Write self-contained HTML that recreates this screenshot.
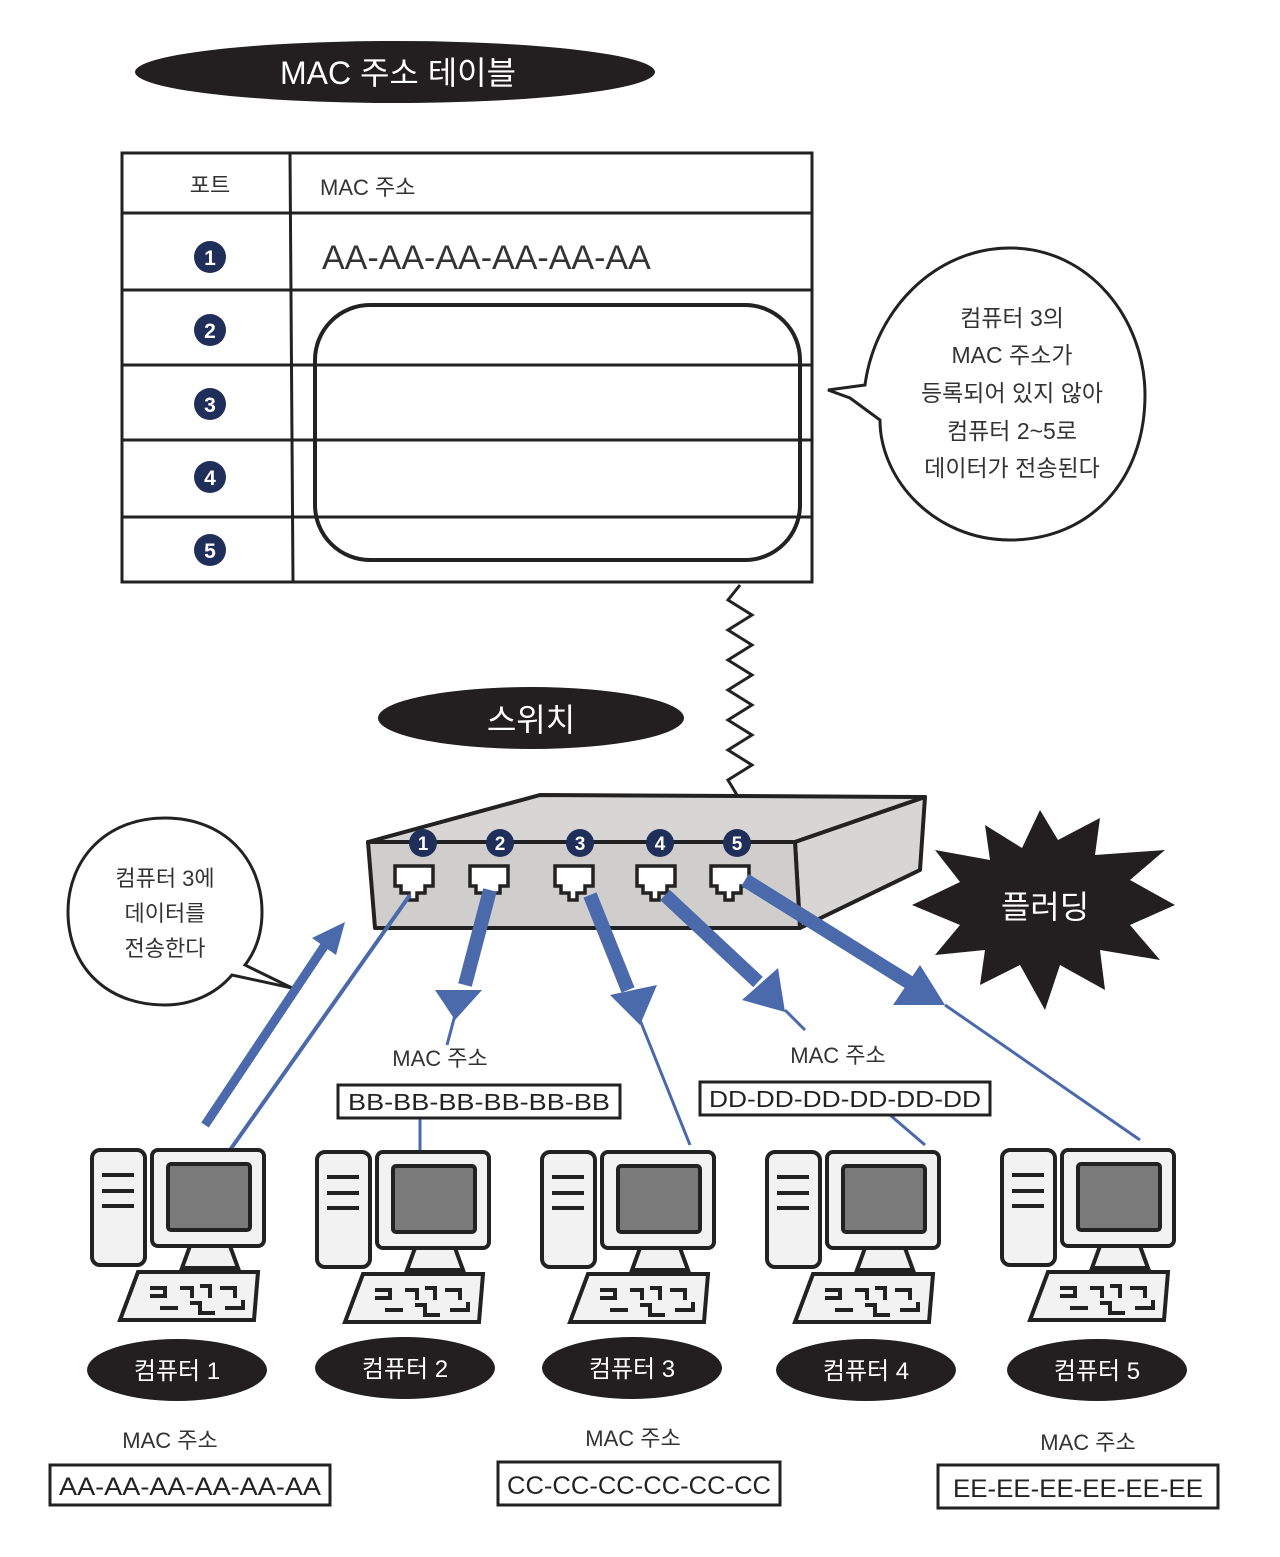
<!DOCTYPE html>
<html><head><meta charset="utf-8"><style>
html,body{margin:0;padding:0;background:#fff;}
svg{display:block;}
text{font-family:"Liberation Sans","Noto Sans CJK KR",sans-serif;}
</style></head><body>
<svg width="1280" height="1557" viewBox="0 0 1280 1557" xmlns="http://www.w3.org/2000/svg">
<defs>
<g id="pc">
<rect x="2" y="2" width="53" height="115" rx="8" fill="#f2f2f2" stroke="#222" stroke-width="4"/>
<line x1="12" y1="27" x2="44" y2="27" stroke="#222" stroke-width="4"/>
<line x1="12" y1="43" x2="44" y2="43" stroke="#222" stroke-width="4"/>
<line x1="12" y1="58" x2="44" y2="58" stroke="#222" stroke-width="4"/>
<rect x="62" y="2" width="112" height="96" rx="6" fill="#f2f2f2" stroke="#222" stroke-width="4"/>
<rect x="78" y="16" width="82" height="66" rx="3" fill="#7a7a7a" stroke="#222" stroke-width="4"/>
<polygon points="100,98 140,98 148,120 92,120" fill="#f2f2f2" stroke="#222" stroke-width="4"/>
<polygon points="48,124 168,124 164,172 30,172" fill="#f2f2f2" stroke="#222" stroke-width="4"/>
<g stroke="#222" stroke-width="4" fill="none">
<path d="M60 140h15v8h-15M90 140h12v10M110 138h10v12M130 140h15v10M70 160h18M100 155h10v10h15M135 160h18v-8"/>
</g>
</g>
</defs>

<ellipse cx="395" cy="72" rx="260" ry="31" fill="#231f20"/>
<text x="398" y="84" font-size="32" fill="#fff" text-anchor="middle">MAC 주소 테이블</text>

<g stroke="#222" stroke-width="3" fill="none">
<rect x="122" y="153" width="690" height="429"/>
<line x1="122" y1="213" x2="812" y2="213"/>
<line x1="122" y1="290" x2="812" y2="290"/>
<line x1="122" y1="365" x2="812" y2="365"/>
<line x1="122" y1="440" x2="812" y2="440"/>
<line x1="122" y1="517" x2="812" y2="517"/>
<line x1="290" y1="153" x2="293" y2="582"/>
<rect x="315" y="305" width="485" height="255" rx="55" stroke-width="4"/>
</g>
<text x="210" y="193" font-size="22" fill="#333" text-anchor="middle">포트</text>
<text x="320" y="195" font-size="22" fill="#333">MAC 주소</text>
<text x="322" y="269" font-size="34" fill="#333">AA-AA-AA-AA-AA-AA</text>
<g fill="#1f2f5a">
<circle cx="210" cy="257" r="16"/><circle cx="210" cy="330" r="16"/><circle cx="210" cy="404" r="16"/><circle cx="210" cy="477" r="16"/><circle cx="210" cy="550" r="16"/>
</g>
<g fill="#fff" font-size="21" font-weight="bold" text-anchor="middle">
<text x="210" y="265">1</text><text x="210" y="338">2</text><text x="210" y="412">3</text><text x="210" y="485">4</text><text x="210" y="558">5</text>
</g>

<path d="M1010 248 C1090 248 1145 320 1145 395 C1145 480 1090 540 1010 540 C935 540 880 480 880 420 L850 398 L828 390 L865 385 C875 310 935 248 1010 248 Z" fill="#fff" stroke="#222" stroke-width="3"/>
<g font-size="23" fill="#333" text-anchor="middle">
<text x="1012" y="326">컴퓨터 3의</text>
<text x="1012" y="363">MAC 주소가</text>
<text x="1012" y="401">등록되어 있지 않아</text>
<text x="1012" y="439">컴퓨터 2~5로</text>
<text x="1012" y="476">데이터가 전송된다</text>
</g>

<polyline points="740,585 728,600 752,615 728,630 752,645 728,660 752,675 728,690 752,705 728,720 752,735 728,750 752,765 728,780 740,800 752,808" fill="none" stroke="#222" stroke-width="3"/>

<ellipse cx="531" cy="718" rx="153" ry="31" fill="#231f20"/>
<text x="531" y="731" font-size="32" fill="#fff" text-anchor="middle">스위치</text>

<polygon points="368,842 540,795 925,797 795,842" fill="#d8d6d4" stroke="#222" stroke-width="4" stroke-linejoin="round"/>
<polygon points="795,842 925,797 920,870 800,928" fill="#d8d6d4" stroke="#222" stroke-width="4" stroke-linejoin="round"/>
<polygon points="368,842 795,842 800,928 375,928" fill="#d0cecc" stroke="#222" stroke-width="4" stroke-linejoin="round"/>
<g fill="#1f2f5a">
<circle cx="423" cy="843" r="14"/><circle cx="500" cy="843" r="14"/><circle cx="580" cy="843" r="14"/><circle cx="660" cy="843" r="14"/><circle cx="737" cy="843" r="14"/>
</g>
<g fill="#fff" font-size="19" font-weight="bold" text-anchor="middle">
<text x="423" y="850">1</text><text x="500" y="850">2</text><text x="580" y="850">3</text><text x="660" y="850">4</text><text x="737" y="850">5</text>
</g>
<g fill="#fff" stroke="#222" stroke-width="3.5">
<path d="M395 866h38v20h-8v7h-8v7h-8v-7h-8v-7h-6z"/>
<path d="M470 866h38v20h-8v7h-8v7h-8v-7h-8v-7h-6z"/>
<path d="M555 866h38v20h-8v7h-8v7h-8v-7h-8v-7h-6z"/>
<path d="M637 866h38v20h-8v7h-8v7h-8v-7h-8v-7h-6z"/>
<path d="M711 866h38v20h-8v7h-8v7h-8v-7h-8v-7h-6z"/>
</g>

<path d="M165 818 C225 818 262 860 262 912 C262 935 255 952 245 965 L292 988 L232 975 C215 995 190 1005 165 1005 C105 1005 68 965 68 912 C68 860 105 818 165 818 Z" fill="#fff" stroke="#222" stroke-width="3"/>
<g font-size="22" fill="#333" text-anchor="middle">
<text x="165" y="886">컴퓨터 3에</text>
<text x="165" y="921">데이터를</text>
<text x="165" y="956">전송한다</text>
</g>

<polygon points="1040,810 1058,840 1100,818 1095,855 1165,850 1130,880 1175,905 1130,925 1160,960 1100,950 1105,990 1060,965 1045,1010 1020,965 980,985 985,950 935,955 960,925 912,905 960,882 935,850 990,860 985,825 1022,848" fill="#231f20"/>
<text x="1045" y="918" font-size="32" fill="#fff" text-anchor="middle">플러딩</text>

<g stroke="#4a6aab" fill="none">
<line x1="230" y1="1150" x2="410" y2="895" stroke-width="4"/>
<line x1="205" y1="1125" x2="325" y2="945" stroke-width="9"/>
<line x1="490" y1="890" x2="465" y2="985" stroke-width="14"/>
<line x1="455" y1="1015" x2="447" y2="1045" stroke-width="3"/>
<line x1="590" y1="895" x2="628" y2="990" stroke-width="14"/>
<line x1="640" y1="1020" x2="690" y2="1145" stroke-width="3"/>
<line x1="665" y1="895" x2="758" y2="982" stroke-width="14"/>
<line x1="785" y1="1010" x2="805" y2="1030" stroke-width="3"/>
<line x1="745" y1="880" x2="910" y2="983" stroke-width="14"/>
<line x1="945" y1="1005" x2="1140" y2="1140" stroke-width="3"/>
<line x1="420" y1="1118" x2="420" y2="1150" stroke-width="3"/>
<line x1="890" y1="1115" x2="925" y2="1145" stroke-width="3"/>
</g>
<g fill="#4a6aab">
<polygon points="345,922 336,955 312,938"/>
<polygon points="435,990 482,990 455,1020"/>
<polygon points="610,995 657,985 640,1025"/>
<polygon points="742,1000 778,968 785,1012"/>
<polygon points="893,1005 920,965 945,1005"/>
</g>

<g font-size="22" fill="#333" text-anchor="middle">
<text x="440" y="1066">MAC 주소</text>
<text x="838" y="1063">MAC 주소</text>
<text x="170" y="1448">MAC 주소</text>
<text x="633" y="1446">MAC 주소</text>
<text x="1088" y="1450">MAC 주소</text>
</g>
<g fill="#fff" stroke="#222" stroke-width="3">
<rect x="338" y="1085" width="282" height="33"/>
<rect x="700" y="1082" width="290" height="33"/>
<rect x="50" y="1465" width="280" height="40"/>
<rect x="498" y="1462" width="282" height="43"/>
<rect x="938" y="1465" width="280" height="43"/>
</g>
<g font-size="23" fill="#222" text-anchor="middle" textLength="260">
<text x="479" y="1110" textLength="262" lengthAdjust="spacingAndGlyphs">BB-BB-BB-BB-BB-BB</text>
<text x="845" y="1107" textLength="272" lengthAdjust="spacingAndGlyphs">DD-DD-DD-DD-DD-DD</text>
<text x="190" y="1495" font-size="25" textLength="262" lengthAdjust="spacingAndGlyphs">AA-AA-AA-AA-AA-AA</text>
<text x="639" y="1494" font-size="25" textLength="264" lengthAdjust="spacingAndGlyphs">CC-CC-CC-CC-CC-CC</text>
<text x="1078" y="1497" font-size="25" textLength="250" lengthAdjust="spacingAndGlyphs">EE-EE-EE-EE-EE-EE</text>
</g>

<use href="#pc" x="90" y="1148"/>
<use href="#pc" x="315" y="1150"/>
<use href="#pc" x="540" y="1150"/>
<use href="#pc" x="765" y="1150"/>
<use href="#pc" x="1000" y="1148"/>

<g fill="#231f20">
<ellipse cx="177" cy="1370" rx="90" ry="31"/>
<ellipse cx="405" cy="1368" rx="90" ry="31"/>
<ellipse cx="632" cy="1368" rx="90" ry="31"/>
<ellipse cx="866" cy="1370" rx="90" ry="31"/>
<ellipse cx="1097" cy="1370" rx="90" ry="31"/>
</g>
<g font-size="24" fill="#fff" text-anchor="middle">
<text x="177" y="1379">컴퓨터 1</text>
<text x="405" y="1377">컴퓨터 2</text>
<text x="632" y="1377">컴퓨터 3</text>
<text x="866" y="1379">컴퓨터 4</text>
<text x="1097" y="1379">컴퓨터 5</text>
</g>
</svg>
</body></html>
